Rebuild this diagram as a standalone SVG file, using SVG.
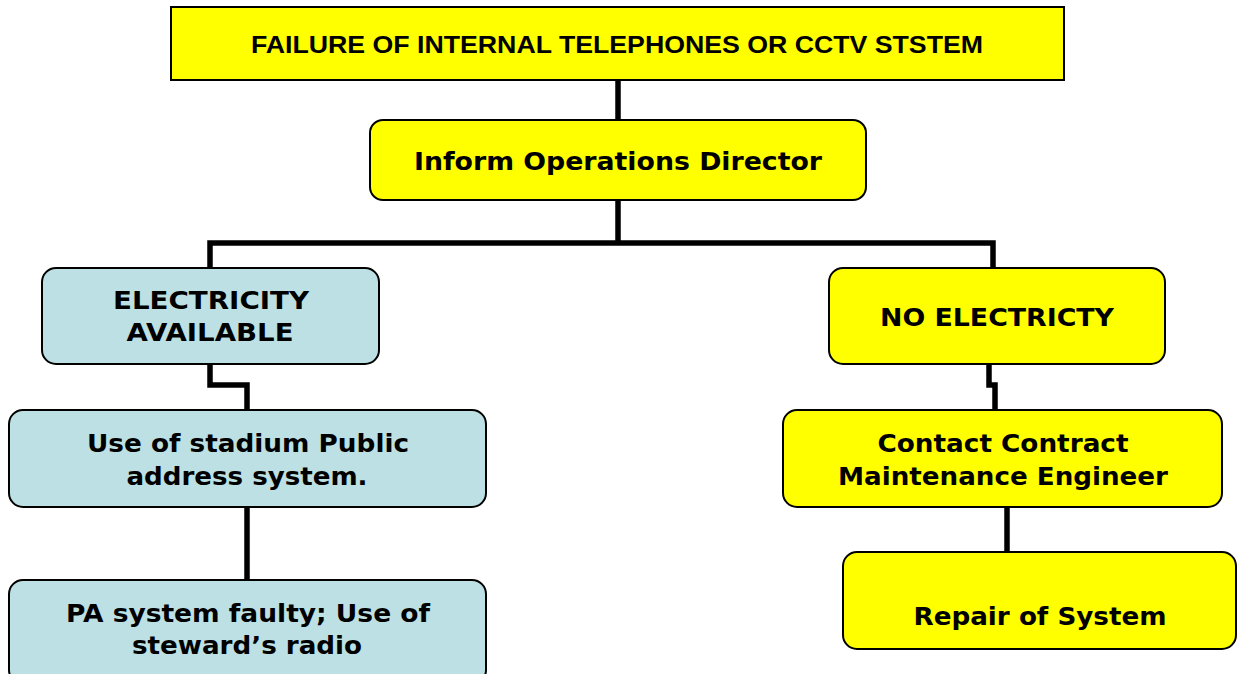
<svg xmlns="http://www.w3.org/2000/svg" width="1237" height="674" viewBox="0 0 1237 674">
<style>
.y{fill:#FFFF00;stroke:#000;stroke-width:2}
.b{fill:#BCE0E3;stroke:#000;stroke-width:2}
.t{font-family:"DejaVu Sans",Verdana,sans-serif;font-weight:bold;font-size:24px;fill:#000;text-anchor:middle}
.h{font-family:"Liberation Sans",Arial,sans-serif;font-weight:bold;font-size:24px;fill:#000;text-anchor:middle}
.c{fill:none;stroke:#000;stroke-width:5.5;stroke-linejoin:miter}
</style>
<rect width="1237" height="674" fill="#fff"/>
<g id="connectors">
<path class="c" d="M618 80V120"/>
<path class="c" d="M618 200V243M210 268V243H993V268"/>
<path class="c" d="M210 364V385H247V410"/>
<path class="c" d="M247 507V580"/>
<path class="c" d="M989 364V385H995V410"/>
<path class="c" d="M1007 507V552"/>
</g>
<g id="n1">
<rect class="y" x="171" y="7" width="893" height="73"/>
<text class="h" x="617" y="53" textLength="732" lengthAdjust="spacingAndGlyphs">FAILURE OF INTERNAL TELEPHONES OR CCTV STSTEM</text>
</g>
<g id="n2">
<rect class="y" x="370" y="120" width="496" height="80" rx="13"/>
<text class="t" x="618" y="170" textLength="408" lengthAdjust="spacingAndGlyphs">Inform Operations Director</text>
</g>
<g id="n3">
<rect class="b" x="42" y="268" width="337" height="96" rx="14"/>
<text class="t" x="211" y="309" textLength="196" lengthAdjust="spacingAndGlyphs">ELECTRICITY</text>
<text class="t" x="210" y="341" textLength="167" lengthAdjust="spacingAndGlyphs">AVAILABLE</text>
</g>
<g id="n4">
<rect class="b" x="9" y="410" width="477" height="97" rx="14"/>
<text class="t" x="248" y="452" textLength="322" lengthAdjust="spacingAndGlyphs">Use of stadium Public</text>
<text class="t" x="247" y="485" textLength="241" lengthAdjust="spacingAndGlyphs">address system.</text>
</g>
<g id="n5">
<rect class="b" x="9" y="580" width="477" height="104" rx="14"/>
<text class="t" x="248" y="622" textLength="364" lengthAdjust="spacingAndGlyphs">PA system faulty; Use of</text>
<text class="t" x="247" y="654" textLength="230" lengthAdjust="spacingAndGlyphs">steward’s radio</text>
</g>
<g id="n6">
<rect class="y" x="829" y="268" width="336" height="96" rx="14"/>
<text class="t" x="997" y="326" textLength="234" lengthAdjust="spacingAndGlyphs">NO ELECTRICTY</text>
</g>
<g id="n7">
<rect class="y" x="783" y="410" width="439" height="97" rx="14"/>
<text class="t" x="1003" y="452" textLength="251" lengthAdjust="spacingAndGlyphs">Contact Contract</text>
<text class="t" x="1003" y="485" textLength="330" lengthAdjust="spacingAndGlyphs">Maintenance Engineer</text>
</g>
<g id="n8">
<rect class="y" x="843" y="552" width="393" height="97" rx="14"/>
<text class="t" x="1040" y="625" textLength="253" lengthAdjust="spacingAndGlyphs">Repair of System</text>
</g>
</svg>
